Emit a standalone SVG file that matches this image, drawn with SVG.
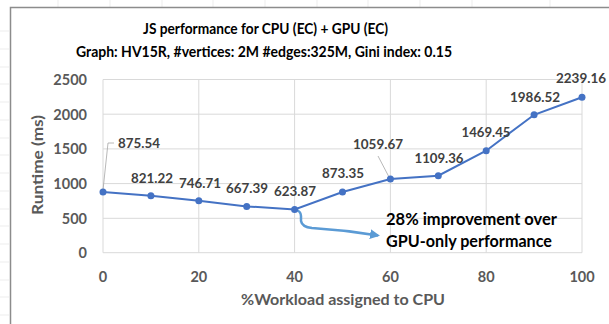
<svg xmlns="http://www.w3.org/2000/svg" width="609" height="324" viewBox="0 0 609 324">
<style>
.title{font-family:Lato,"Open Sans","DejaVu Sans",sans-serif;font-weight:bold;font-size:16px;fill:#000;text-anchor:middle}
.tick{font-family:Lato,"Open Sans","DejaVu Sans",sans-serif;font-weight:bold;font-size:14.5px;fill:#595959}
.ytick{text-anchor:end}
.xtick{text-anchor:middle}
.axtitle{font-family:Lato,"Open Sans","DejaVu Sans",sans-serif;font-weight:bold;font-size:16px;fill:#595959;text-anchor:middle}
.dl{font-family:Lato,"Open Sans","DejaVu Sans",sans-serif;font-weight:bold;font-size:14px;fill:#404040;text-anchor:middle}
.note{font-family:Lato,"Open Sans","DejaVu Sans",sans-serif;font-weight:bold;font-size:17px;fill:#000}
.grid{stroke:#D9D9D9;stroke-width:1;fill:none}
.sheet{stroke:#EDEDED;stroke-width:1}
.leader{stroke:#A6A6A6;stroke-width:0.8;fill:none}
.pt{fill:#4472C4}
</style>
<defs>
<marker id="arr" viewBox="0 0 10 10" refX="8" refY="5" markerWidth="4" markerHeight="4" orient="auto">
<path d="M0,0 L10,5 L0,10 z" fill="#5B9BD5"/>
</marker>
</defs>
<rect width="609" height="324" fill="#fff"/>
<g id="sheet-grid">
<line class="sheet" x1="58" y1="0" x2="58" y2="7"/>
<line class="sheet" x1="110" y1="0" x2="110" y2="7"/>
<line class="sheet" x1="162" y1="0" x2="162" y2="7"/>
<line class="sheet" x1="213" y1="0" x2="213" y2="7"/>
<line class="sheet" x1="265" y1="0" x2="265" y2="7"/>
<line class="sheet" x1="317" y1="0" x2="317" y2="7"/>
<line class="sheet" x1="368" y1="0" x2="368" y2="7"/>
<line class="sheet" x1="420" y1="0" x2="420" y2="7"/>
<line class="sheet" x1="472" y1="0" x2="472" y2="7"/>
<line class="sheet" x1="550" y1="0" x2="550" y2="7"/>
<line class="sheet" x1="0" y1="31" x2="9" y2="31"/>
<line class="sheet" x1="0" y1="49" x2="9" y2="49"/>
<line class="sheet" x1="0" y1="67" x2="9" y2="67"/>
<line class="sheet" x1="0" y1="84" x2="9" y2="84"/>
<line class="sheet" x1="0" y1="102" x2="9" y2="102"/>
<line class="sheet" x1="0" y1="120" x2="9" y2="120"/>
<line class="sheet" x1="0" y1="138" x2="9" y2="138"/>
<line class="sheet" x1="0" y1="155" x2="9" y2="155"/>
<line class="sheet" x1="0" y1="173" x2="9" y2="173"/>
<line class="sheet" x1="0" y1="191" x2="9" y2="191"/>
<line class="sheet" x1="0" y1="209" x2="9" y2="209"/>
<line class="sheet" x1="0" y1="226" x2="9" y2="226"/>
<line class="sheet" x1="0" y1="244" x2="9" y2="244"/>
<line class="sheet" x1="0" y1="262" x2="9" y2="262"/>
<line class="sheet" x1="0" y1="280" x2="9" y2="280"/>
<line class="sheet" x1="0" y1="297" x2="9" y2="297"/>
<line class="sheet" x1="0" y1="315" x2="9" y2="315"/>
</g>
<g id="frame">
<path d="M10.5,324 L10.5,7.5 L609,7.5" fill="none" stroke="#8C8C8C" stroke-width="1.5"/>
</g>
<g id="title">
<text class="title" x="265.5" y="33.5" textLength="245" lengthAdjust="spacingAndGlyphs">JS performance for CPU (EC) + GPU (EC)</text>
<text class="title" x="264" y="56.5" textLength="376" lengthAdjust="spacingAndGlyphs">Graph: HV15R, #vertices: 2M #edges:325M, Gini index: 0.15</text>
</g>
<g id="plot-area">
<line class="grid" x1="103" y1="79.5" x2="582" y2="79.5"/>
<line class="grid" x1="103" y1="114.2" x2="582" y2="114.2"/>
<line class="grid" x1="103" y1="148.9" x2="582" y2="148.9"/>
<line class="grid" x1="103" y1="183.6" x2="582" y2="183.6"/>
<line class="grid" x1="103" y1="218.3" x2="582" y2="218.3"/>
<line class="grid" x1="103" y1="252.7" x2="582" y2="252.7"/>
<line class="grid" x1="103" y1="79.5" x2="103" y2="252.7"/>
<line class="grid" x1="198.8" y1="79.5" x2="198.8" y2="252.7"/>
<line class="grid" x1="294.6" y1="79.5" x2="294.6" y2="252.7"/>
<line class="grid" x1="390.4" y1="79.5" x2="390.4" y2="252.7"/>
<line class="grid" x1="486.2" y1="79.5" x2="486.2" y2="252.7"/>
<line class="grid" x1="582" y1="79.5" x2="582" y2="252.7"/>
</g>
<g id="y-axis">
<text class="tick ytick" x="87" y="85">2500</text>
<text class="tick ytick" x="87" y="119.5">2000</text>
<text class="tick ytick" x="87" y="154">1500</text>
<text class="tick ytick" x="87" y="189">1000</text>
<text class="tick ytick" x="87" y="223.5">500</text>
<text class="tick ytick" x="87" y="258">0</text>
<text class="axtitle" transform="translate(43,165) rotate(-90)" textLength="100" lengthAdjust="spacingAndGlyphs">Runtime (ms)</text>
</g>
<g id="x-axis">
<text class="tick xtick" x="103" y="282">0</text>
<text class="tick xtick" x="198.8" y="282">20</text>
<text class="tick xtick" x="294.6" y="282">40</text>
<text class="tick xtick" x="390.4" y="282">60</text>
<text class="tick xtick" x="486.2" y="282">80</text>
<text class="tick xtick" x="582" y="282">100</text>
<text class="axtitle" x="343" y="305" textLength="204" lengthAdjust="spacingAndGlyphs">%Workload assigned to CPU</text>
</g>
<g id="connectors">
<polyline points="103,191.9 150.9,195.7 198.8,200.8 246.7,206.4 294.6,209.4 342.5,192.0 390.4,179.1 438.3,175.7 486.2,150.7 534.1,114.8 582,97.2" fill="none" stroke="#4472C4" stroke-width="2"/>
<path class="leader" d="M103,190 L108,143 L114,143"/>
<path class="leader" d="M378,156 L389,177"/>
<path d="M295,209.4 Q301,211 301,216 L301,221 Q302,227 312,228 Q345,230 378,235.5" fill="none" stroke="#5B9BD5" stroke-width="2.5" marker-end="url(#arr)"/>
</g>
<g id="points">
<circle class="pt" cx="103" cy="191.9" r="3.5"/>
<circle class="pt" cx="150.9" cy="195.7" r="3.5"/>
<circle class="pt" cx="198.8" cy="200.8" r="3.5"/>
<circle class="pt" cx="246.7" cy="206.4" r="3.5"/>
<circle class="pt" cx="294.6" cy="209.4" r="3.5"/>
<circle class="pt" cx="342.5" cy="192.0" r="3.5"/>
<circle class="pt" cx="390.4" cy="179.1" r="3.5"/>
<circle class="pt" cx="438.3" cy="175.7" r="3.5"/>
<circle class="pt" cx="486.2" cy="150.7" r="3.5"/>
<circle class="pt" cx="534.1" cy="114.8" r="3.5"/>
<circle class="pt" cx="582" cy="97.2" r="3.5"/>
</g>
<g id="data-labels">
<text class="dl" x="139" y="148" textLength="42" lengthAdjust="spacingAndGlyphs">875.54</text>
<text class="dl" x="152" y="183" textLength="42" lengthAdjust="spacingAndGlyphs">821.22</text>
<text class="dl" x="200" y="188" textLength="42" lengthAdjust="spacingAndGlyphs">746.71</text>
<text class="dl" x="247" y="193" textLength="42" lengthAdjust="spacingAndGlyphs">667.39</text>
<text class="dl" x="295" y="196" textLength="42" lengthAdjust="spacingAndGlyphs">623.87</text>
<text class="dl" x="343" y="178" textLength="42" lengthAdjust="spacingAndGlyphs">873.35</text>
<text class="dl" x="378" y="149" textLength="50" lengthAdjust="spacingAndGlyphs">1059.67</text>
<text class="dl" x="439" y="163" textLength="49" lengthAdjust="spacingAndGlyphs">1109.36</text>
<text class="dl" x="486" y="137" textLength="49" lengthAdjust="spacingAndGlyphs">1469.45</text>
<text class="dl" x="535" y="102" textLength="50" lengthAdjust="spacingAndGlyphs">1986.52</text>
<text class="dl" x="581" y="83" textLength="50" lengthAdjust="spacingAndGlyphs">2239.16</text>
</g>
<g id="annotation">
<text class="note" x="386" y="225" textLength="171" lengthAdjust="spacingAndGlyphs">28% improvement over</text>
<text class="note" x="386" y="247" textLength="166" lengthAdjust="spacingAndGlyphs">GPU-only performance</text>
</g>
</svg>
